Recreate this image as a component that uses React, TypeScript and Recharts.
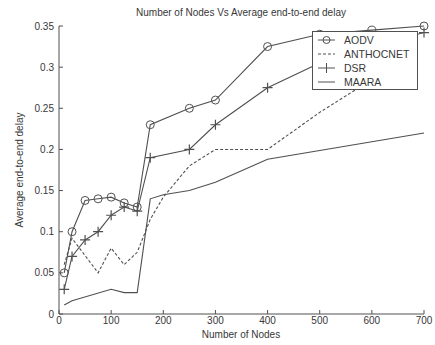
import React from 'react';
import { Line, LineChart, XAxis, YAxis } from 'recharts';

const X_TICKS = [0, 100, 200, 300, 400, 500, 600, 700];
const Y_TICKS = [0, 0.05, 0.1, 0.15, 0.2, 0.25, 0.3, 0.35];

const AODV_NODES = [10, 25, 50, 75, 100, 125, 150, 175, 250, 300, 400, 500, 600, 700];
const AODV_DELAY = [0.05, 0.1, 0.138, 0.14, 0.142, 0.135, 0.13, 0.23, 0.25, 0.26, 0.325, 0.34, 0.345, 0.35];

const ANTHOCNET_NODES = [10, 25, 75, 100, 125, 150, 175, 200, 250, 300, 400, 500, 600];
const ANTHOCNET_DELAY = [0.06, 0.092, 0.05, 0.08, 0.06, 0.075, 0.115, 0.142, 0.18, 0.2, 0.2, 0.245, 0.285];

const DSR_NODES = [10, 25, 50, 75, 100, 125, 150, 175, 250, 300, 400, 500, 600, 700];
const DSR_DELAY = [0.03, 0.07, 0.09, 0.1, 0.12, 0.13, 0.125, 0.19, 0.2, 0.23, 0.275, 0.305, 0.325, 0.342];

const MAARA_NODES = [10, 25, 100, 125, 150, 175, 200, 250, 300, 400, 700];
const MAARA_DELAY = [0.011, 0.016, 0.03, 0.026, 0.026, 0.14, 0.145, 0.15, 0.16, 0.188, 0.22];

const INK = '#505050';
const TEXT = '#383838';
const FONT = '"Liberation Sans", Arial, sans-serif';

const toPoints = (nodes: number[], delay: number[]) =>
  nodes.map((n, i) => ({ nodes: n, delay: delay[i] }));

const plusDot = (props: any) => {
  const { cx, cy, index } = props;
  if (cx == null || cy == null) return <g key={index} />;
  return (
    <path
      key={index}
      d={`M${cx - 5},${cy}H${cx + 5}M${cx},${cy - 5}V${cy + 5}`}
      stroke={INK}
      strokeWidth={1.2}
    />
  );
};

const BottomTick = ({ x, y, payload }: any) => (
  <g>
    <line x1={x} x2={x} y1={y - 9} y2={y - 13} stroke={INK} />
    <text x={x} y={y + 1} textAnchor="middle" fontSize={10} fill={TEXT} fontFamily={FONT}>
      {payload.value}
    </text>
  </g>
);

const TopTick = ({ x, y }: any) => (
  <line x1={x} x2={x} y1={y} y2={y + 4} stroke={INK} />
);

const LeftTick = ({ x, y, payload }: any) => (
  <g>
    <line x1={x + 5} x2={x + 9} y1={y} y2={y} stroke={INK} />
    <text x={x} y={y + 3.5} textAnchor="end" fontSize={10} fill={TEXT} fontFamily={FONT}>
      {payload.value}
    </text>
  </g>
);

const RightTick = ({ x, y }: any) => (
  <line x1={x} x2={x - 4} y1={y} y2={y} stroke={INK} />
);

const LEGEND_ITEMS = [
  { name: 'AODV', kind: 'circle' },
  { name: 'ANTHOCNET', kind: 'dash' },
  { name: 'DSR', kind: 'plus' },
  { name: 'MAARA', kind: 'line' },
];

const LegendBox = () => (
  <div
    style={{
      position: 'absolute',
      left: 312,
      top: 31,
      width: 104,
      height: 57,
      border: `1px solid ${INK}`,
      background: '#fff',
      fontFamily: FONT,
      fontSize: 10.5,
      color: TEXT,
    }}
  >
    {LEGEND_ITEMS.map((item, i) => (
      <div key={item.name} style={{ position: 'absolute', left: 0, top: 1 + i * 14, height: 14, display: 'flex', alignItems: 'center' }}>
        <svg width={30} height={14} style={{ display: 'block' }}>
          <line x1={5} x2={22} y1={7} y2={7} stroke={INK} strokeDasharray={item.kind === 'dash' ? '3 2' : undefined} />
          {item.kind === 'circle' && <circle cx={13.5} cy={7} r={3.5} fill="none" stroke={INK} />}
          {item.kind === 'plus' && <path d="M13.5,2V12" stroke={INK} />}
        </svg>
        <span style={{ marginLeft: 1 }}>{item.name}</span>
      </div>
    ))}
  </div>
);

export default function App() {
  return (
    <div style={{ position: 'absolute', left: 0, top: 0, width: 435, height: 345, background: '#fff' }}>
      <div
        style={{
          position: 'absolute',
          left: 0,
          top: 7,
          width: 482,
          textAlign: 'center',
          fontFamily: FONT,
          fontSize: 10,
          color: TEXT,
          lineHeight: '12px',
        }}
      >
        Number of Nodes Vs Average end-to-end delay
      </div>
      <LineChart width={435} height={345} margin={{ top: 26, right: 11, bottom: 11, left: 19 }}>
        <XAxis
          dataKey="nodes"
          type="number"
          domain={[0, 700]}
          ticks={X_TICKS}
          tickSize={0}
          tickMargin={9}
          height={20}
          interval={0}
          tick={<BottomTick />}
          axisLine={{ stroke: INK }}
          tickLine={false}
          label={{
            content: () => (
              <text x={241} y={338} textAnchor="middle" fontSize={10} fill={TEXT} fontFamily={FONT}>
                Number of Nodes
              </text>
            ),
          }}
        />
        <XAxis
          xAxisId="top"
          orientation="top"
          dataKey="nodes"
          type="number"
          domain={[0, 700]}
          ticks={X_TICKS}
          tickSize={0}
          tickMargin={0}
          height={0}
          interval={0}
          tick={<TopTick />}
          axisLine={{ stroke: INK }}
          tickLine={false}
        />
        <YAxis
          dataKey="delay"
          type="number"
          domain={[0, 0.35]}
          ticks={Y_TICKS}
          tickSize={0}
          tickMargin={5}
          width={40}
          interval={0}
          tick={<LeftTick />}
          axisLine={{ stroke: INK }}
          tickLine={false}
          label={{
            content: () => (
              <text
                x={23}
                y={170}
                transform="rotate(-90 23 170)"
                textAnchor="middle"
                fontSize={10}
                fill={TEXT}
                fontFamily={FONT}
              >
                Average end-to-end delay
              </text>
            ),
          }}
        />
        <YAxis
          yAxisId="right"
          orientation="right"
          type="number"
          domain={[0, 0.35]}
          ticks={Y_TICKS}
          tickSize={0}
          tickMargin={0}
          width={0}
          interval={0}
          tick={<RightTick />}
          axisLine={{ stroke: INK }}
          tickLine={false}
        />
        <Line
          data={toPoints(MAARA_NODES, MAARA_DELAY)}
          dataKey="delay"
          name="MAARA"
          type="linear"
          stroke={INK}
          strokeWidth={1.1}
          dot={false}
          isAnimationActive={false}
        />
        <Line
          data={toPoints(ANTHOCNET_NODES, ANTHOCNET_DELAY)}
          dataKey="delay"
          name="ANTHOCNET"
          type="linear"
          stroke={INK}
          strokeWidth={1.1}
          strokeDasharray="3 2"
          dot={false}
          isAnimationActive={false}
        />
        <Line
          data={toPoints(DSR_NODES, DSR_DELAY)}
          dataKey="delay"
          name="DSR"
          type="linear"
          stroke={INK}
          strokeWidth={1.1}
          dot={plusDot}
          isAnimationActive={false}
        />
        <Line
          data={toPoints(AODV_NODES, AODV_DELAY)}
          dataKey="delay"
          name="AODV"
          type="linear"
          stroke={INK}
          strokeWidth={1.1}
          dot={{ r: 4, fill: 'none', stroke: INK, strokeWidth: 1 }}
          isAnimationActive={false}
        />
      </LineChart>
      <LegendBox />
    </div>
  );
}
